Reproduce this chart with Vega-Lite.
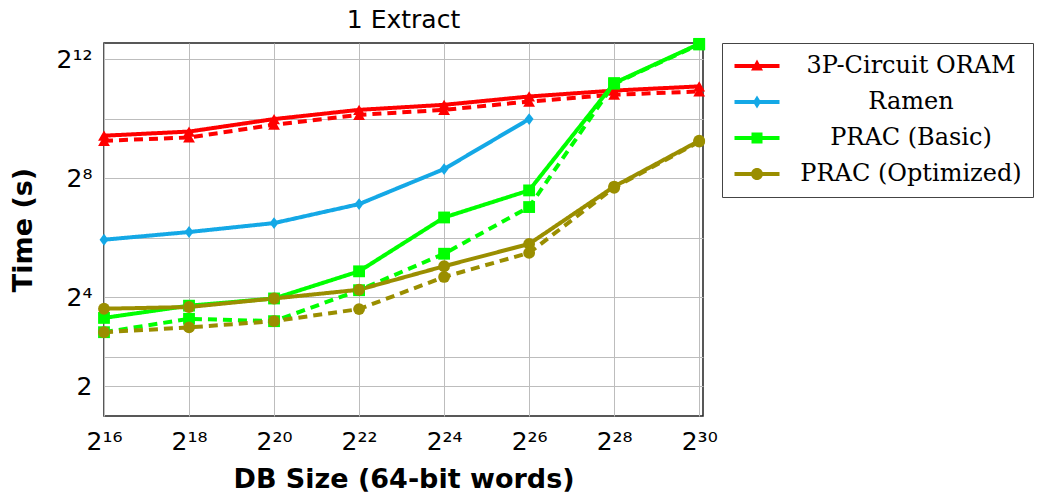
{
  "$schema": "https://vega.github.io/schema/vega-lite/v6.json",
  "width": 599,
  "height": 373,
  "autosize": {"type": "none"},
  "padding": {"left": 104, "top": 43, "right": 338, "bottom": 83},
  "background": "white",
  "title": {"text": "1 Extract", "font": "DejaVu Sans", "fontSize": 25, "fontWeight": "normal", "color": "black", "offset": 3},
  "config": {
    "view": {"stroke": "#222", "strokeWidth": 1.5},
    "axis": {"gridColor": "#bdbdbd", "gridWidth": 1, "gridOpacity": 1, "domain": false, "ticks": false, "labelColor": "black", "titleColor": "black", "labelFont": "DejaVu Sans", "titleFont": "DejaVu Sans"}
  },
  "data": {"values": [
    {"series": "3P-Circuit ORAM", "variant": "solid", "words": 65536, "time": 690},
    {"series": "3P-Circuit ORAM", "variant": "solid", "words": 262144, "time": 760},
    {"series": "3P-Circuit ORAM", "variant": "solid", "words": 1048576, "time": 1017},
    {"series": "3P-Circuit ORAM", "variant": "solid", "words": 4194304, "time": 1261},
    {"series": "3P-Circuit ORAM", "variant": "solid", "words": 16777216, "time": 1418},
    {"series": "3P-Circuit ORAM", "variant": "solid", "words": 67108864, "time": 1722},
    {"series": "3P-Circuit ORAM", "variant": "solid", "words": 268435456, "time": 1978},
    {"series": "3P-Circuit ORAM", "variant": "solid", "words": 1073741824, "time": 2180},
    {"series": "3P-Circuit ORAM", "variant": "dashed", "words": 65536, "time": 613},
    {"series": "3P-Circuit ORAM", "variant": "dashed", "words": 262144, "time": 662},
    {"series": "3P-Circuit ORAM", "variant": "dashed", "words": 1048576, "time": 891},
    {"series": "3P-Circuit ORAM", "variant": "dashed", "words": 4194304, "time": 1121},
    {"series": "3P-Circuit ORAM", "variant": "dashed", "words": 16777216, "time": 1261},
    {"series": "3P-Circuit ORAM", "variant": "dashed", "words": 67108864, "time": 1531},
    {"series": "3P-Circuit ORAM", "variant": "dashed", "words": 268435456, "time": 1795},
    {"series": "3P-Circuit ORAM", "variant": "dashed", "words": 1073741824, "time": 1937},
    {"series": "Ramen", "variant": "solid", "words": 65536, "time": 61.0},
    {"series": "Ramen", "variant": "solid", "words": 262144, "time": 73.0},
    {"series": "Ramen", "variant": "solid", "words": 1048576, "time": 89.9},
    {"series": "Ramen", "variant": "solid", "words": 4194304, "time": 140},
    {"series": "Ramen", "variant": "solid", "words": 16777216, "time": 317},
    {"series": "Ramen", "variant": "solid", "words": 67108864, "time": 1017},
    {"series": "PRAC (Basic)", "variant": "solid", "words": 65536, "time": 9.85},
    {"series": "PRAC (Basic)", "variant": "solid", "words": 262144, "time": 13.1},
    {"series": "PRAC (Basic)", "variant": "solid", "words": 1048576, "time": 15.5},
    {"series": "PRAC (Basic)", "variant": "solid", "words": 4194304, "time": 29.2},
    {"series": "PRAC (Basic)", "variant": "solid", "words": 16777216, "time": 102.5},
    {"series": "PRAC (Basic)", "variant": "solid", "words": 67108864, "time": 192.7},
    {"series": "PRAC (Basic)", "variant": "solid", "words": 268435456, "time": 2353},
    {"series": "PRAC (Basic)", "variant": "solid", "words": 1073741824, "time": 5874},
    {"series": "PRAC (Basic)", "variant": "dashed", "words": 65536, "time": 7.06},
    {"series": "PRAC (Basic)", "variant": "dashed", "words": 262144, "time": 9.65},
    {"series": "PRAC (Basic)", "variant": "dashed", "words": 1048576, "time": 9.13},
    {"series": "PRAC (Basic)", "variant": "dashed", "words": 4194304, "time": 18.8},
    {"series": "PRAC (Basic)", "variant": "dashed", "words": 16777216, "time": 44.0},
    {"series": "PRAC (Basic)", "variant": "dashed", "words": 67108864, "time": 130.7},
    {"series": "PRAC (Basic)", "variant": "dashed", "words": 268435456, "time": 2320},
    {"series": "PRAC (Basic)", "variant": "dashed", "words": 1073741824, "time": 5793},
    {"series": "PRAC (Optimized)", "variant": "solid", "words": 65536, "time": 12.2},
    {"series": "PRAC (Optimized)", "variant": "solid", "words": 262144, "time": 12.7},
    {"series": "PRAC (Optimized)", "variant": "solid", "words": 1048576, "time": 15.5},
    {"series": "PRAC (Optimized)", "variant": "solid", "words": 4194304, "time": 19.0},
    {"series": "PRAC (Optimized)", "variant": "solid", "words": 16777216, "time": 32.9},
    {"series": "PRAC (Optimized)", "variant": "solid", "words": 67108864, "time": 55.3},
    {"series": "PRAC (Optimized)", "variant": "solid", "words": 268435456, "time": 210.8},
    {"series": "PRAC (Optimized)", "variant": "solid", "words": 1073741824, "time": 613},
    {"series": "PRAC (Optimized)", "variant": "dashed", "words": 65536, "time": 7.06},
    {"series": "PRAC (Optimized)", "variant": "dashed", "words": 262144, "time": 7.89},
    {"series": "PRAC (Optimized)", "variant": "dashed", "words": 1048576, "time": 9.13},
    {"series": "PRAC (Optimized)", "variant": "dashed", "words": 4194304, "time": 12.1},
    {"series": "PRAC (Optimized)", "variant": "dashed", "words": 16777216, "time": 25.6},
    {"series": "PRAC (Optimized)", "variant": "dashed", "words": 67108864, "time": 44.9},
    {"series": "PRAC (Optimized)", "variant": "dashed", "words": 268435456, "time": 205},
    {"series": "PRAC (Optimized)", "variant": "dashed", "words": 1073741824, "time": 600.6}
  ]},
  "encoding": {
    "x": {
      "field": "words", "type": "quantitative",
      "scale": {"type": "log", "base": 2, "domain": [65536, 1143000000], "nice": false, "zero": false},
      "axis": {
        "values": [65536, 262144, 1048576, 4194304, 16777216, 67108864, 268435456, 1073741824],
        "labelExpr": "'2' + (datum.value == 65536 ? '¹⁶' : datum.value == 262144 ? '¹⁸' : datum.value == 1048576 ? '²⁰' : datum.value == 4194304 ? '²²' : datum.value == 16777216 ? '²⁴' : datum.value == 67108864 ? '²⁶' : datum.value == 268435456 ? '²⁸' : '³⁰')",
        "labelFontSize": 25, "labelPadding": 13, "labelFlush": false, "labelOverlap": false,
        "title": "DB Size (64-bit words)", "titleFontSize": 27, "titleFontWeight": "bold", "titlePadding": 12
      }
    },
    "y": {
      "field": "time", "type": "quantitative",
      "scale": {"type": "log", "base": 2, "domain": [1, 5995], "nice": false, "zero": false},
      "axis": {
        "values": [2, 4, 16, 64, 256, 1024, 4096],
        "labelExpr": "datum.value == 2 ? '2' : datum.value == 16 ? '2⁴' : datum.value == 256 ? '2⁸' : datum.value == 4096 ? '2¹²' : ''",
        "labelFontSize": 25, "labelPadding": 12, "labelFlush": false, "labelOverlap": false,
        "title": "Time (s)", "titleFontSize": 27, "titleFontWeight": "bold", "titlePadding": 19
      }
    }
  },
  "layer": [
    {
      "mark": {"type": "line", "strokeWidth": 4},
      "encoding": {
        "color": {"field": "series", "type": "nominal", "scale": {"domain": ["3P-Circuit ORAM", "Ramen", "PRAC (Basic)", "PRAC (Optimized)"], "range": ["#ff0000", "#14a8e6", "#00ff00", "#9a8e00"]}, "legend": null},
        "strokeDash": {"field": "variant", "type": "nominal", "scale": {"domain": ["solid", "dashed"], "range": [[1, 0], [9, 6]]}, "legend": null}
      }
    },
    {
      "mark": {"type": "point", "filled": true, "opacity": 1, "size": 140, "strokeWidth": 0},
      "encoding": {
        "color": {"field": "series", "type": "nominal", "scale": {"domain": ["3P-Circuit ORAM", "Ramen", "PRAC (Basic)", "PRAC (Optimized)"], "range": ["#ff0000", "#14a8e6", "#00ff00", "#9a8e00"]}, "legend": null},
        "shape": {"field": "series", "type": "nominal", "scale": {"domain": ["3P-Circuit ORAM", "Ramen", "PRAC (Basic)", "PRAC (Optimized)"], "range": ["triangle-up", "M0,-1L0.75,0L0,1L-0.75,0Z", "square", "circle"]}, "legend": null}
      }
    },
    {
      "transform": [{"filter": "datum.variant == 'solid' && datum.words == 65536"}],
      "mark": {"type": "point", "filled": true, "opacity": 0, "size": 10},
      "encoding": {
        "color": {"field": "series", "type": "nominal", "scale": {"domain": ["3P-Circuit ORAM", "Ramen", "PRAC (Basic)", "PRAC (Optimized)"], "range": ["#ff0000", "#14a8e6", "#00ff00", "#9a8e00"]},
          "legend": {"orient": "none", "legendX": 618, "legendY": 0, "title": null, "padding": 11, "rowPadding": 12, "symbolSize": 400, "symbolOffset": 12, "symbolOpacity": 1, "symbolStrokeWidth": 0, "labelOffset": 142, "labelAlign": "center", "labelFont": "DejaVu Serif", "labelFontSize": 24, "labelColor": "black", "labelLimit": 400, "strokeColor": "#444", "fillColor": "white"}},
        "shape": {"field": "series", "type": "nominal", "scale": {"domain": ["3P-Circuit ORAM", "Ramen", "PRAC (Basic)", "PRAC (Optimized)"], "range": [
          "M-2.25,-0.2H2.25V0.2H-2.25Z M0,-0.65L0.6,0.45L-0.6,0.45Z",
          "M-2.25,-0.2H2.25V0.2H-2.25Z M0,-0.65L0.4,0L0,0.65L-0.4,0Z",
          "M-2.25,-0.2H2.25V0.2H-2.25Z M-0.55,-0.55H0.55V0.55H-0.55Z",
          "M-2.25,-0.2H2.25V0.2H-2.25Z M0.6,0A0.6,0.6,0,1,1,-0.6,0A0.6,0.6,0,1,1,0.6,0Z"
        ]},
          "legend": {"orient": "none", "legendX": 618, "legendY": 0, "title": null, "padding": 11, "rowPadding": 12, "symbolSize": 400, "symbolOffset": 12, "symbolOpacity": 1, "symbolStrokeWidth": 0, "labelOffset": 142, "labelAlign": "center", "labelFont": "DejaVu Serif", "labelFontSize": 24, "labelColor": "black", "labelLimit": 400, "strokeColor": "#444", "fillColor": "white"}}
      }
    }
  ],
  "resolve": {"scale": {"color": "independent", "shape": "independent"}, "legend": {"color": "independent", "shape": "independent"}}
}
